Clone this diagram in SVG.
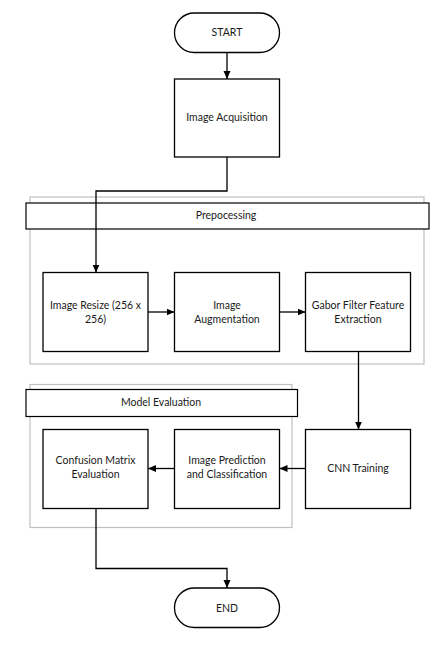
<svg xmlns="http://www.w3.org/2000/svg" width="443" height="649" viewBox="0 0 443 649">
<defs>
<marker id="ah" viewBox="0 0 8 8" refX="8" refY="4" markerWidth="8" markerHeight="8" markerUnits="userSpaceOnUse" orient="auto">
<path d="M0,0.5 L8,4 L0,7.5 Z" fill="#000"/>
</marker>
<style>
.box{fill:#fff;stroke:#000;stroke-width:1.3}
.frame{fill:none;stroke:#c0c0c0;stroke-width:1.2}
.hdr{fill:#fff;stroke:#000;stroke-width:1.2}
.t{font-family:Lato,"Liberation Sans",sans-serif;font-size:10.5px;fill:#1a1a1a;text-anchor:middle}
.c{fill:none;stroke:#000;stroke-width:1.3;marker-end:url(#ah)}
</style>
</defs>
<rect width="443" height="649" fill="#fff"/>
<g id="prepocessing-group">
<rect class="frame" x="30" y="197" width="394" height="167"/>
<rect class="hdr" x="26" y="203" width="403" height="26"/>
<text class="t" x="226" y="219">Prepocessing</text>
</g>
<g id="model-evaluation-group">
<rect class="frame" x="30" y="384.5" width="262" height="143"/>
<rect class="hdr" x="26" y="389.5" width="271.5" height="27"/>
<text class="t" x="161" y="406">Model Evaluation</text>
</g>
<g id="start">
<rect class="box" x="174.5" y="13" width="105" height="39.5" rx="19.75"/>
<text class="t" x="227" y="36">START</text>
</g>
<g id="acquisition">
<rect class="box" x="174.5" y="79" width="105" height="78"/>
<text class="t" x="227" y="121">Image Acquisition</text>
</g>
<g id="resize">
<rect class="box" x="43" y="272.5" width="105" height="79"/>
<text class="t" x="95.5" y="308.5">Image Resize (256 x</text>
<text class="t" x="95.5" y="322.5">256)</text>
</g>
<g id="augmentation">
<rect class="box" x="174.5" y="272.5" width="105" height="79"/>
<text class="t" x="227" y="308.5">Image</text>
<text class="t" x="227" y="322.5">Augmentation</text>
</g>
<g id="gabor">
<rect class="box" x="305.5" y="272.5" width="105" height="79"/>
<text class="t" x="358" y="308.5">Gabor Filter Feature</text>
<text class="t" x="358" y="322.5">Extraction</text>
</g>
<g id="cnn">
<rect class="box" x="305.5" y="429.5" width="105" height="79"/>
<text class="t" x="358" y="471.5">CNN Training</text>
</g>
<g id="prediction">
<rect class="box" x="174.5" y="429.5" width="105" height="79"/>
<text class="t" x="227" y="464">Image Prediction</text>
<text class="t" x="227" y="478">and Classification</text>
</g>
<g id="confusion">
<rect class="box" x="43" y="429.5" width="105" height="79"/>
<text class="t" x="95.5" y="464">Confusion Matrix</text>
<text class="t" x="95.5" y="478">Evaluation</text>
</g>
<g id="end">
<rect class="box" x="174.5" y="588" width="105" height="39.5" rx="19.75"/>
<text class="t" x="227" y="611.5">END</text>
</g>
<g id="connectors">
<path class="c" d="M227,52.5 V79"/>
<path class="c" d="M227,157 V191 H96 V272.5"/>
<path class="c" d="M148,312 H174.5"/>
<path class="c" d="M279.5,312 H305.5"/>
<path class="c" d="M358.5,351.5 V429.5"/>
<path class="c" d="M305.5,468.5 H279.5"/>
<path class="c" d="M174.5,468.5 H148"/>
<path class="c" d="M96,508.5 V568.5 H227 V588"/>
</g>
</svg>
